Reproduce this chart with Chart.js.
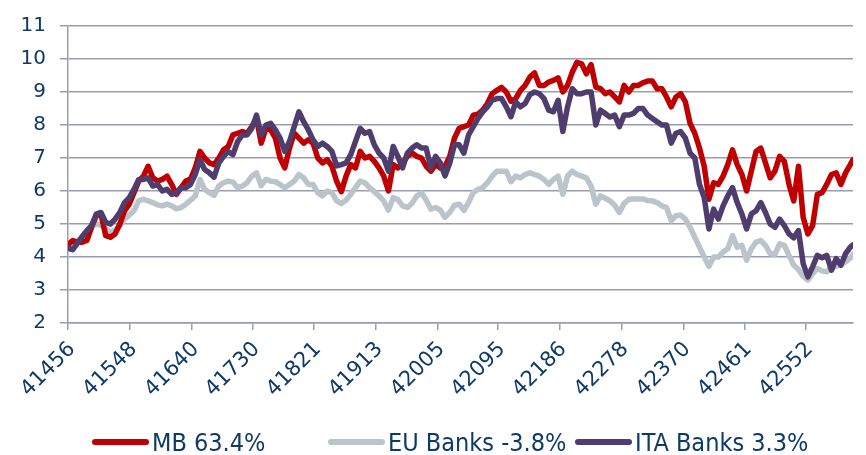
<!DOCTYPE html>
<html>
<head>
<meta charset="utf-8">
<script src="https://cdn.jsdelivr.net/npm/chart.js@4.4.0/dist/chart.umd.min.js"></script>
<style>
  html, body { margin: 0; padding: 0; background: #fff; }
  #wrap { position: relative; width: 866px; height: 455px; }
  #legend {
    position: absolute; left: 0; top: 429px; width: 866px; height: 26px;
    font-family: "DejaVu Sans Condensed", "DejaVu Sans", sans-serif;
    font-size: 25px; color: #0E3A66;
  }
  .item { position: absolute; top: 0; height: 26px; display: flex; align-items: center; white-space: nowrap; }
  .swatch { width: 57px; height: 6px; border-radius: 3px; margin-right: 3px; }
</style>
</head>
<body>
<div id="wrap">
  <canvas id="chart" width="866" height="455"></canvas>
  <div id="legend"></div>
</div>
<script>
// x values are Excel date serials, one reading per week
const firstDate = 41456;
const lastDate = 42622;
const tickDates = [41456, 41548, 41640, 41730, 41821, 41913, 42005, 42095, 42186, 42278, 42370, 42461, 42552];

const mbLabel = "MB 63.4%";
const euLabel = "EU Banks -3.8%";
const itaLabel = "ITA Banks 3.3%";

const mb = [
  4.37, 4.50, 4.45, 4.45, 4.50, 4.90, 5.25, 5.30, 4.65, 4.60,
  4.70, 5.00, 5.40, 5.60, 5.95, 6.30, 6.45, 6.75, 6.40, 6.30,
  6.35, 6.45, 6.20, 5.90, 6.10, 6.30, 6.36, 6.70, 7.20, 7.00,
  6.85, 6.80, 7.00, 7.25, 7.35, 7.70, 7.75, 7.80, 7.75, 7.95,
  8.20, 7.45, 7.90, 7.85, 7.60, 7.00, 6.70, 7.30, 7.75, 7.60,
  7.45, 7.55, 7.45, 7.00, 6.85, 6.95, 6.75, 6.30, 5.98, 6.45,
  6.80, 6.70, 7.20, 7.00, 7.05, 6.90, 6.70, 6.45, 6.00, 6.80,
  6.70, 6.85, 7.05, 7.15, 7.05, 7.00, 6.75, 6.60, 6.80, 6.70,
  6.75, 7.05, 7.60, 7.90, 7.95, 8.00, 8.30, 8.33, 8.45, 8.65,
  8.95, 9.05, 9.14, 9.00, 8.72, 8.80, 9.05, 9.20, 9.45, 9.58,
  9.20, 9.20, 9.30, 9.35, 9.43, 9.00, 9.20, 9.60, 9.90, 9.85,
  9.55, 9.83, 9.15, 9.10, 8.95, 9.00, 8.85, 8.70, 9.20, 9.00,
  9.20, 9.20, 9.28, 9.33, 9.33, 9.10, 9.10, 8.85, 8.55, 8.85,
  8.95, 8.70, 8.05, 7.75, 7.30, 6.75, 5.75, 6.25, 6.20, 6.45,
  6.80, 7.25, 6.80, 6.50, 6.00, 6.60, 7.20, 7.30, 6.85, 6.40,
  6.60, 7.05, 6.90, 6.20, 5.70, 6.75, 5.20, 4.70, 4.95, 5.90,
  5.95, 6.20, 6.50, 6.55, 6.20, 6.55, 6.80, 6.95
];

const euBanks = [
  4.22, 4.30, 4.45, 4.60, 4.75, 4.95, 5.00, 4.97, 4.85, 4.75,
  4.82, 4.95, 5.15, 5.27, 5.40, 5.70, 5.75, 5.70, 5.65, 5.58,
  5.55, 5.60, 5.55, 5.46, 5.50, 5.60, 5.72, 5.85, 6.35, 6.05,
  5.95, 5.87, 6.15, 6.25, 6.30, 6.27, 6.10, 6.15, 6.25, 6.45,
  6.55, 6.16, 6.35, 6.30, 6.28, 6.20, 6.10, 6.20, 6.30, 6.50,
  6.40, 6.20, 6.20, 5.95, 5.85, 6.00, 5.95, 5.70, 5.62, 5.72,
  5.90, 6.10, 6.30, 6.25, 6.10, 5.98, 5.85, 5.70, 5.42, 5.80,
  5.74, 5.55, 5.50, 5.63, 5.85, 5.95, 5.73, 5.45, 5.50, 5.42,
  5.20, 5.35, 5.57, 5.60, 5.41, 5.65, 5.95, 6.05, 6.10, 6.25,
  6.45, 6.60, 6.60, 6.60, 6.28, 6.45, 6.40, 6.50, 6.55, 6.50,
  6.45, 6.35, 6.20, 6.35, 6.45, 5.90, 6.45, 6.60, 6.50, 6.45,
  6.40, 6.15, 5.60, 5.85, 5.78, 5.70, 5.57, 5.35, 5.62, 5.75,
  5.76, 5.76, 5.76, 5.71, 5.70, 5.65, 5.55, 5.50, 5.10, 5.25,
  5.27, 5.15, 4.90, 4.60, 4.30, 4.00, 3.72, 4.00, 4.00, 4.15,
  4.25, 4.65, 4.30, 4.35, 3.90, 4.25, 4.45, 4.50, 4.35, 4.10,
  4.08, 4.40, 4.35, 4.05, 3.75, 3.62, 3.42, 3.30, 3.50, 3.65,
  3.58, 3.55, 3.70, 3.72, 3.76, 3.85, 3.97, 4.08
];

const itaBanks = [
  4.27, 4.22, 4.42, 4.62, 4.80, 4.95, 5.30, 5.35, 5.05, 5.00,
  5.15, 5.35, 5.65, 5.80, 6.05, 6.35, 6.35, 6.40, 6.15, 6.20,
  6.00, 6.05, 5.90, 5.95, 6.10, 6.10, 6.20, 6.50, 6.95, 6.65,
  6.55, 6.42, 6.85, 7.05, 7.20, 7.10, 7.50, 7.70, 7.70, 7.90,
  8.30, 7.70, 8.00, 8.05, 7.85, 7.60, 7.20, 7.50, 7.95, 8.40,
  8.10, 7.85, 7.55, 7.35, 7.45, 7.35, 7.20, 6.76, 6.80, 6.85,
  7.10, 7.50, 7.90, 7.75, 7.80, 7.40, 7.15, 7.00, 6.60, 7.35,
  7.05, 6.70, 7.15, 7.30, 7.40, 7.30, 7.30, 6.70, 7.05, 6.85,
  6.46, 6.85, 7.40, 7.40, 7.15, 7.70, 7.95, 8.20, 8.40, 8.55,
  8.75, 8.80, 8.80, 8.55, 8.25, 8.70, 8.55, 8.65, 8.92, 9.00,
  8.95, 8.80, 8.45, 8.40, 8.75, 7.80, 8.55, 9.10, 8.95, 8.95,
  9.00, 9.00, 8.00, 8.45, 8.35, 8.24, 8.30, 7.95, 8.30, 8.30,
  8.35, 8.50, 8.50, 8.30, 8.20, 8.10, 8.00, 8.00, 7.45, 7.75,
  7.80, 7.60, 7.15, 7.00, 6.20, 5.80, 4.85, 5.45, 5.15, 5.55,
  5.85, 6.10, 5.65, 5.30, 4.85, 5.30, 5.40, 5.65, 5.35, 5.00,
  4.90, 5.15, 4.95, 4.70, 4.58, 4.80, 3.80, 3.40, 3.70, 4.05,
  3.98, 4.05, 3.60, 3.95, 3.75, 4.10, 4.30, 4.37
];

const dates = [];
for (let d = firstDate; d < lastDate - 3; d += 7) dates.push(d);
dates.push(lastDate);

const navy = "#0E3A66";
const gridColor = "#9A9CB0";
const series = [
  { label: mbLabel, values: mb, color: "#C00000", order: 1 },
  { label: euLabel, values: euBanks, color: "#BAC4CA", order: 2 },
  { label: itaLabel, values: itaBanks, color: "#4F3D6E", order: 0 },
];

new Chart(document.getElementById("chart"), {
  type: "line",
  data: {
    datasets: series.map(s => ({
      label: s.label,
      data: dates.map((d, i) => ({ x: d, y: s.values[i] })),
      borderColor: s.color,
      backgroundColor: s.color,
      borderWidth: 5.5,
      pointRadius: 0,
      tension: 0,
      borderJoinStyle: "round",
      borderCapStyle: "round",
      order: s.order,
    })),
  },
  options: {
    responsive: false,
    animation: false,
    devicePixelRatio: 1,
    layout: { padding: { top: 20, right: 13, bottom: 32, left: 0 } },
    plugins: { legend: { display: false }, tooltip: { enabled: false } },
    scales: {
      x: {
        type: "linear",
        min: firstDate,
        max: lastDate,
        afterBuildTicks: scale => { scale.ticks = tickDates.map(v => ({ value: v })); },
        afterFit: scale => { scale.height = 100; },
        ticks: {
          autoSkip: false,
          minRotation: 45,
          maxRotation: 45,
          padding: 7,
          labelOffset: 4,
          color: navy,
          font: { family: "DejaVu Sans", size: 21 },
          callback: v => String(v),
        },
        grid: { drawOnChartArea: false, drawTicks: true, tickLength: 7, color: gridColor, lineWidth: 1.5 },
        border: { display: true, color: gridColor, width: 1.5 },
      },
      y: {
        min: 2,
        max: 11,
        afterFit: scale => { scale.width = 68; },
        ticks: {
          stepSize: 1,
          padding: 14,
          color: navy,
          font: { family: "DejaVu Sans", size: 20 },
        },
        grid: { color: gridColor, lineWidth: 1.5, tickLength: 8 },
        border: { display: true, color: gridColor, width: 1.5 },
      },
    },
  },
});

// legend as html, same look as the source deck
const legendLeft = [92, 328, 575];
const legend = document.getElementById("legend");
series.forEach((s, i) => {
  const item = document.createElement("div");
  item.className = "item";
  item.style.left = legendLeft[i] + "px";
  const sw = document.createElement("span");
  sw.className = "swatch";
  sw.style.background = s.color;
  const txt = document.createElement("span");
  txt.textContent = s.label;
  item.appendChild(sw);
  item.appendChild(txt);
  legend.appendChild(item);
});
</script>
</body>
</html>
